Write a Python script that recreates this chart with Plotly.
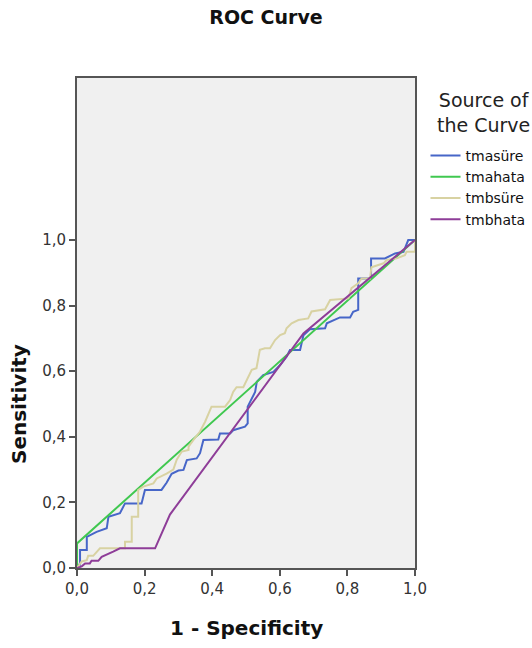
import plotly.graph_objects as go

# ---- data ----
series_names = ["tmasüre", "tmahata", "tmbsüre", "tmbhata"]

tmasure_x = [0, 0, 0.009, 0.009, 0.029, 0.029, 0.058, 0.088, 0.093, 0.127, 0.142, 0.191, 0.201, 0.25,
             0.265, 0.28, 0.3, 0.315, 0.325, 0.354, 0.364, 0.374, 0.418, 0.423, 0.453, 0.462, 0.497,
             0.505, 0.505, 0.527, 0.532, 0.551, 0.581, 0.601, 0.62, 0.63, 0.66, 0.67, 0.689, 0.734,
             0.739, 0.778, 0.808, 0.817, 0.832, 0.832, 0.87, 0.87, 0.911, 0.941, 0.966, 0.98, 1.0]
tmasure_y = [0, 0.01, 0.01, 0.055, 0.055, 0.095, 0.11, 0.121, 0.156, 0.167, 0.197, 0.197, 0.238, 0.238,
             0.26, 0.287, 0.297, 0.299, 0.329, 0.334, 0.35, 0.39, 0.392, 0.41, 0.41, 0.42, 0.431,
             0.441, 0.492, 0.537, 0.568, 0.588, 0.598, 0.619, 0.644, 0.665, 0.665, 0.71, 0.728, 0.731,
             0.746, 0.764, 0.764, 0.781, 0.787, 0.883, 0.883, 0.944, 0.944, 0.959, 0.964, 1.0, 1.0]

tmahata_x = [0, 0, 1.0]
tmahata_y = [0, 0.075, 1.0]

tmbsure_x = [0, 0.014, 0.029, 0.033, 0.048, 0.058, 0.068, 0.098, 0.142, 0.142, 0.162, 0.162, 0.181,
             0.181, 0.196, 0.226, 0.236, 0.265, 0.285, 0.295, 0.31, 0.33, 0.33, 0.344, 0.364, 0.379,
             0.393, 0.398, 0.438, 0.453, 0.462, 0.472, 0.492, 0.517, 0.531, 0.541, 0.556, 0.571,
             0.586, 0.601, 0.615, 0.62, 0.635, 0.655, 0.684, 0.694, 0.734, 0.749, 0.803, 0.812,
             0.832, 0.842, 0.867, 0.871, 0.907, 0.916, 0.946, 0.97, 0.975, 1.0, 1.0]
tmbsure_y = [0, 0.02, 0.024, 0.037, 0.037, 0.05, 0.06, 0.06, 0.06, 0.08, 0.08, 0.156, 0.156,
             0.238, 0.248, 0.258, 0.273, 0.288, 0.3, 0.33, 0.355, 0.36, 0.37, 0.39, 0.416, 0.446,
             0.48, 0.492, 0.492, 0.512, 0.537, 0.551, 0.551, 0.604, 0.609, 0.665, 0.67, 0.67,
             0.695, 0.71, 0.716, 0.731, 0.746, 0.756, 0.761, 0.782, 0.789, 0.817, 0.822, 0.853,
             0.868, 0.883, 0.883, 0.917, 0.929, 0.939, 0.944, 0.954, 0.964, 0.964, 1.0]

tmbhata_x = [0, 0.014, 0.024, 0.038, 0.043, 0.063, 0.073, 0.088, 0.107, 0.127, 0.231, 0.275, 0.67, 1.0]
tmbhata_y = [0, 0.005, 0.014, 0.014, 0.022, 0.022, 0.034, 0.04, 0.05, 0.06, 0.06, 0.163, 0.715, 1.0]

tick_vals = [0, 0.2, 0.4, 0.6, 0.8, 1.0]
tick_text = ["0,0", "0,2", "0,4", "0,6", "0,8", "1,0"]

colors = ["#4766c8", "#40c850", "#d8d2a2", "#8e3d98"]

FONT = "DejaVu Sans, Verdana, sans-serif"

fig = go.Figure()
for name, xs, ys, c in zip(series_names,
                           [tmasure_x, tmahata_x, tmbsure_x, tmbhata_x],
                           [tmasure_y, tmahata_y, tmbsure_y, tmbhata_y],
                           colors):
    fig.add_trace(go.Scatter(x=xs, y=ys, mode="lines", name=name,
                             line=dict(color=c, width=2), cliponaxis=True))

fig.update_layout(
    width=532, height=648,
    margin=dict(l=77, r=117, t=78, b=80, autoexpand=False),
    paper_bgcolor="white",
    plot_bgcolor="#f0f0f0",
    font=dict(family=FONT, size=15, color="#222222"),
    title=dict(text="<b>ROC Curve</b>", x=0.5, xref="container", xanchor="center",
               y=1 - 17 / 648, yref="container", yanchor="middle",
               font=dict(family=FONT, size=19, color="#111111")),
    showlegend=True,
    legend=dict(x=(425.5 - 77) / 338, xanchor="left", y=(568 - 140) / 490, yanchor="top",
                font=dict(family=FONT, size=14, color="#111111"),
                bgcolor="rgba(0,0,0,0)", tracegroupgap=0, itemwidth=30),
    xaxis=dict(range=[0, 1], tickvals=tick_vals, ticktext=tick_text,
               showgrid=False, zeroline=False, showline=True, mirror=True,
               linecolor="#555555", linewidth=2, ticks="outside", ticklen=6,
               tickwidth=2, tickcolor="#555555",
               tickfont=dict(family=FONT, size=15, color="#333333")),
    yaxis=dict(range=[0, 1.494], tickvals=tick_vals, ticktext=tick_text,
               showgrid=False, zeroline=False, showline=True, mirror=True,
               linecolor="#555555", linewidth=2, ticks="outside", ticklen=6,
               tickwidth=2, tickcolor="#555555",
               tickfont=dict(family=FONT, size=15, color="#333333")),
    annotations=[
        dict(text="<b>1 - Specificity</b>", xref="paper", yref="paper", x=0.5, y=-60 / 490,
             xanchor="center", yanchor="middle", showarrow=False,
             font=dict(family=FONT, size=20, color="#111111")),
        dict(text="<b>Sensitivity</b>", xref="paper", yref="y", x=-58 / 338, y=0.5,
             xanchor="center", yanchor="middle", textangle=-90, showarrow=False,
             font=dict(family=FONT, size=20, color="#111111")),
        dict(text="Source of<br>the Curve", xref="paper", yref="paper",
             x=(483 - 77) / 338, y=(568 - 112) / 490, xanchor="center", yanchor="middle",
             align="center", showarrow=False,
             font=dict(family=FONT, size=19, color="#222222")),
    ],
)

fig.write_html("out.html", config={"displayModeBar": False},
               post_script="document.body.style.margin='0';")
